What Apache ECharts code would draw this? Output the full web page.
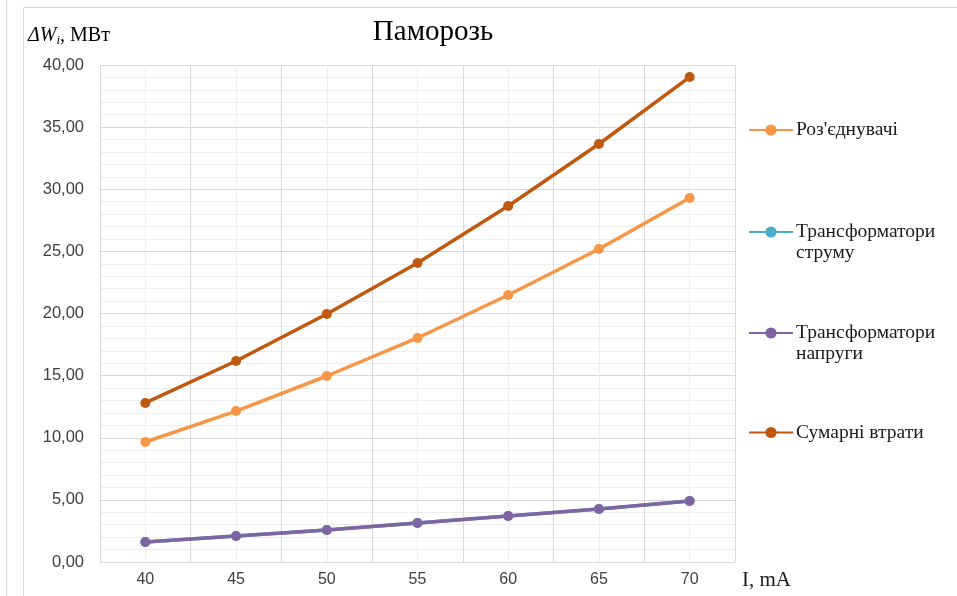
<!DOCTYPE html>
<html><head><meta charset="utf-8">
<script src="https://cdn.jsdelivr.net/npm/echarts@6/dist/echarts.min.js"></script>
<style>html,body{margin:0;padding:0;background:#fff}#c{width:957px;height:596px}</style>
</head><body><div id="c"></div>
<script>
const categories = ['40','45','50','55','60','65','70'];
const rozyednuvachi = [9.66, 12.15, 14.97, 18.03, 21.49, 25.19, 29.30];
const transStrumu = [1.61, 2.09, 2.58, 3.14, 3.70, 4.27, 4.91];
const transNapruhy = [1.61, 2.09, 2.58, 3.14, 3.70, 4.27, 4.91];
const sumarni = [12.80, 16.18, 19.96, 24.06, 28.65, 33.64, 39.03];
const seriesNames = ["Роз'єднувачі", 'Трансформатори струму', 'Трансформатори напруги', 'Сумарні втрати'];
const legendLabels = ["Роз'єднувачі", ' \nТрансформатори\nструму', ' \nТрансформатори\nнапруги', 'Сумарні втрати'];
const colors = ['#F79646', '#4BACC6', '#8064A2', '#C0580F'];
const values = [rozyednuvachi, transStrumu, transNapruhy, sumarni];

const font = 'Liberation Serif';
const sans = 'Liberation Sans';
const chart = echarts.init(document.getElementById('c'));
const legendTops = [119.5, 200.5, 301.5, 422];
const legends = seriesNames.map((n, i) => ({
  data: [n], orient: 'vertical', left: 748, top: legendTops[i], padding: 0,
  itemWidth: 44, itemHeight: 14, itemGap: 4,
  formatter: () => legendLabels[i],
  textStyle: {fontFamily: font, fontSize: 19.5, color: '#1a1a1a', lineHeight: 21, padding: [0, 0, 0, -2]}
}));
chart.setOption({
  animation: false,
  color: colors,
  title: {text: 'Паморозь', left: 428, textAlign: 'center', top: 13,
    textStyle: {fontFamily: font, fontSize: 29, fontWeight: 'normal', color: '#000'}},
  legend: legends,
  graphic: [
    {type: 'line', shape: {x1: 6.5, y1: 0, x2: 6.5, y2: 596}, style: {stroke: '#d9d9d9', lineWidth: 1}},
    {type: 'rect', shape: {x: 23.5, y: 7.5, width: 1000, height: 700}, style: {fill: 'none', stroke: '#d9d9d9', lineWidth: 1}}
  ],
  grid: {left: 100, top: 65, right: 222, bottom: 34, containLabel: false},
  xAxis: [
    {type: 'value', position: 'top', min: 0, max: 14, interval: 1, show: true,
      axisLine: {show: false}, axisTick: {show: false}, axisLabel: {show: false},
      splitLine: {show: true, lineStyle: {color: '#eeeeee', width: 1}}},
    {type: 'category', position: 'bottom', data: categories, boundaryGap: true,
      axisLine: {show: true, lineStyle: {color: '#d9d9d9'}}, axisTick: {show: false},
      axisLabel: {fontFamily: sans, fontSize: 16, color: '#404040', margin: 10},
      splitLine: {show: true, interval: 0, lineStyle: {color: '#d9d9d9', width: 1}},
      name: 'I, mA', nameLocation: 'end', nameGap: 7,
      nameTextStyle: {fontFamily: font, fontSize: 21, color: '#1a1a1a', verticalAlign: 'top', padding: [8, 0, 0, 0]}}
  ],
  yAxis: {type: 'value', min: 0, max: 40, interval: 5,
    axisLine: {show: false}, axisTick: {show: false},
    axisLabel: {fontFamily: sans, fontSize: 16.5, color: '#404040', margin: 16,
      formatter: v => v.toFixed(2).replace('.', ',')},
    splitLine: {show: true, lineStyle: {color: '#d9d9d9'}},
    minorTick: {show: false, splitNumber: 5},
    minorSplitLine: {show: true, lineStyle: {color: '#eeeeee'}},
    name: '{it|ΔW}{sub|i}{n|, МВт}', nameLocation: 'end', nameGap: 18,
    nameTextStyle: {align: 'left', padding: [0, 0, 0, -72],
      rich: {
        it: {fontFamily: font, fontStyle: 'italic', fontSize: 20, color: '#000'},
        sub: {fontFamily: font, fontStyle: 'italic', fontSize: 13, color: '#000', verticalAlign: 'bottom', padding: [9, 0, 0, 0]},
        n: {fontFamily: font, fontSize: 20, color: '#000'}
      }}},
  series: seriesNames.map((n, i) => ({
    name: n, type: 'line', xAxisIndex: 1, data: values[i],
    symbol: 'circle', symbolSize: 10,
    lineStyle: {width: 3.5, color: colors[i]}, itemStyle: {color: colors[i]}
  }))
});
</script></body></html>
